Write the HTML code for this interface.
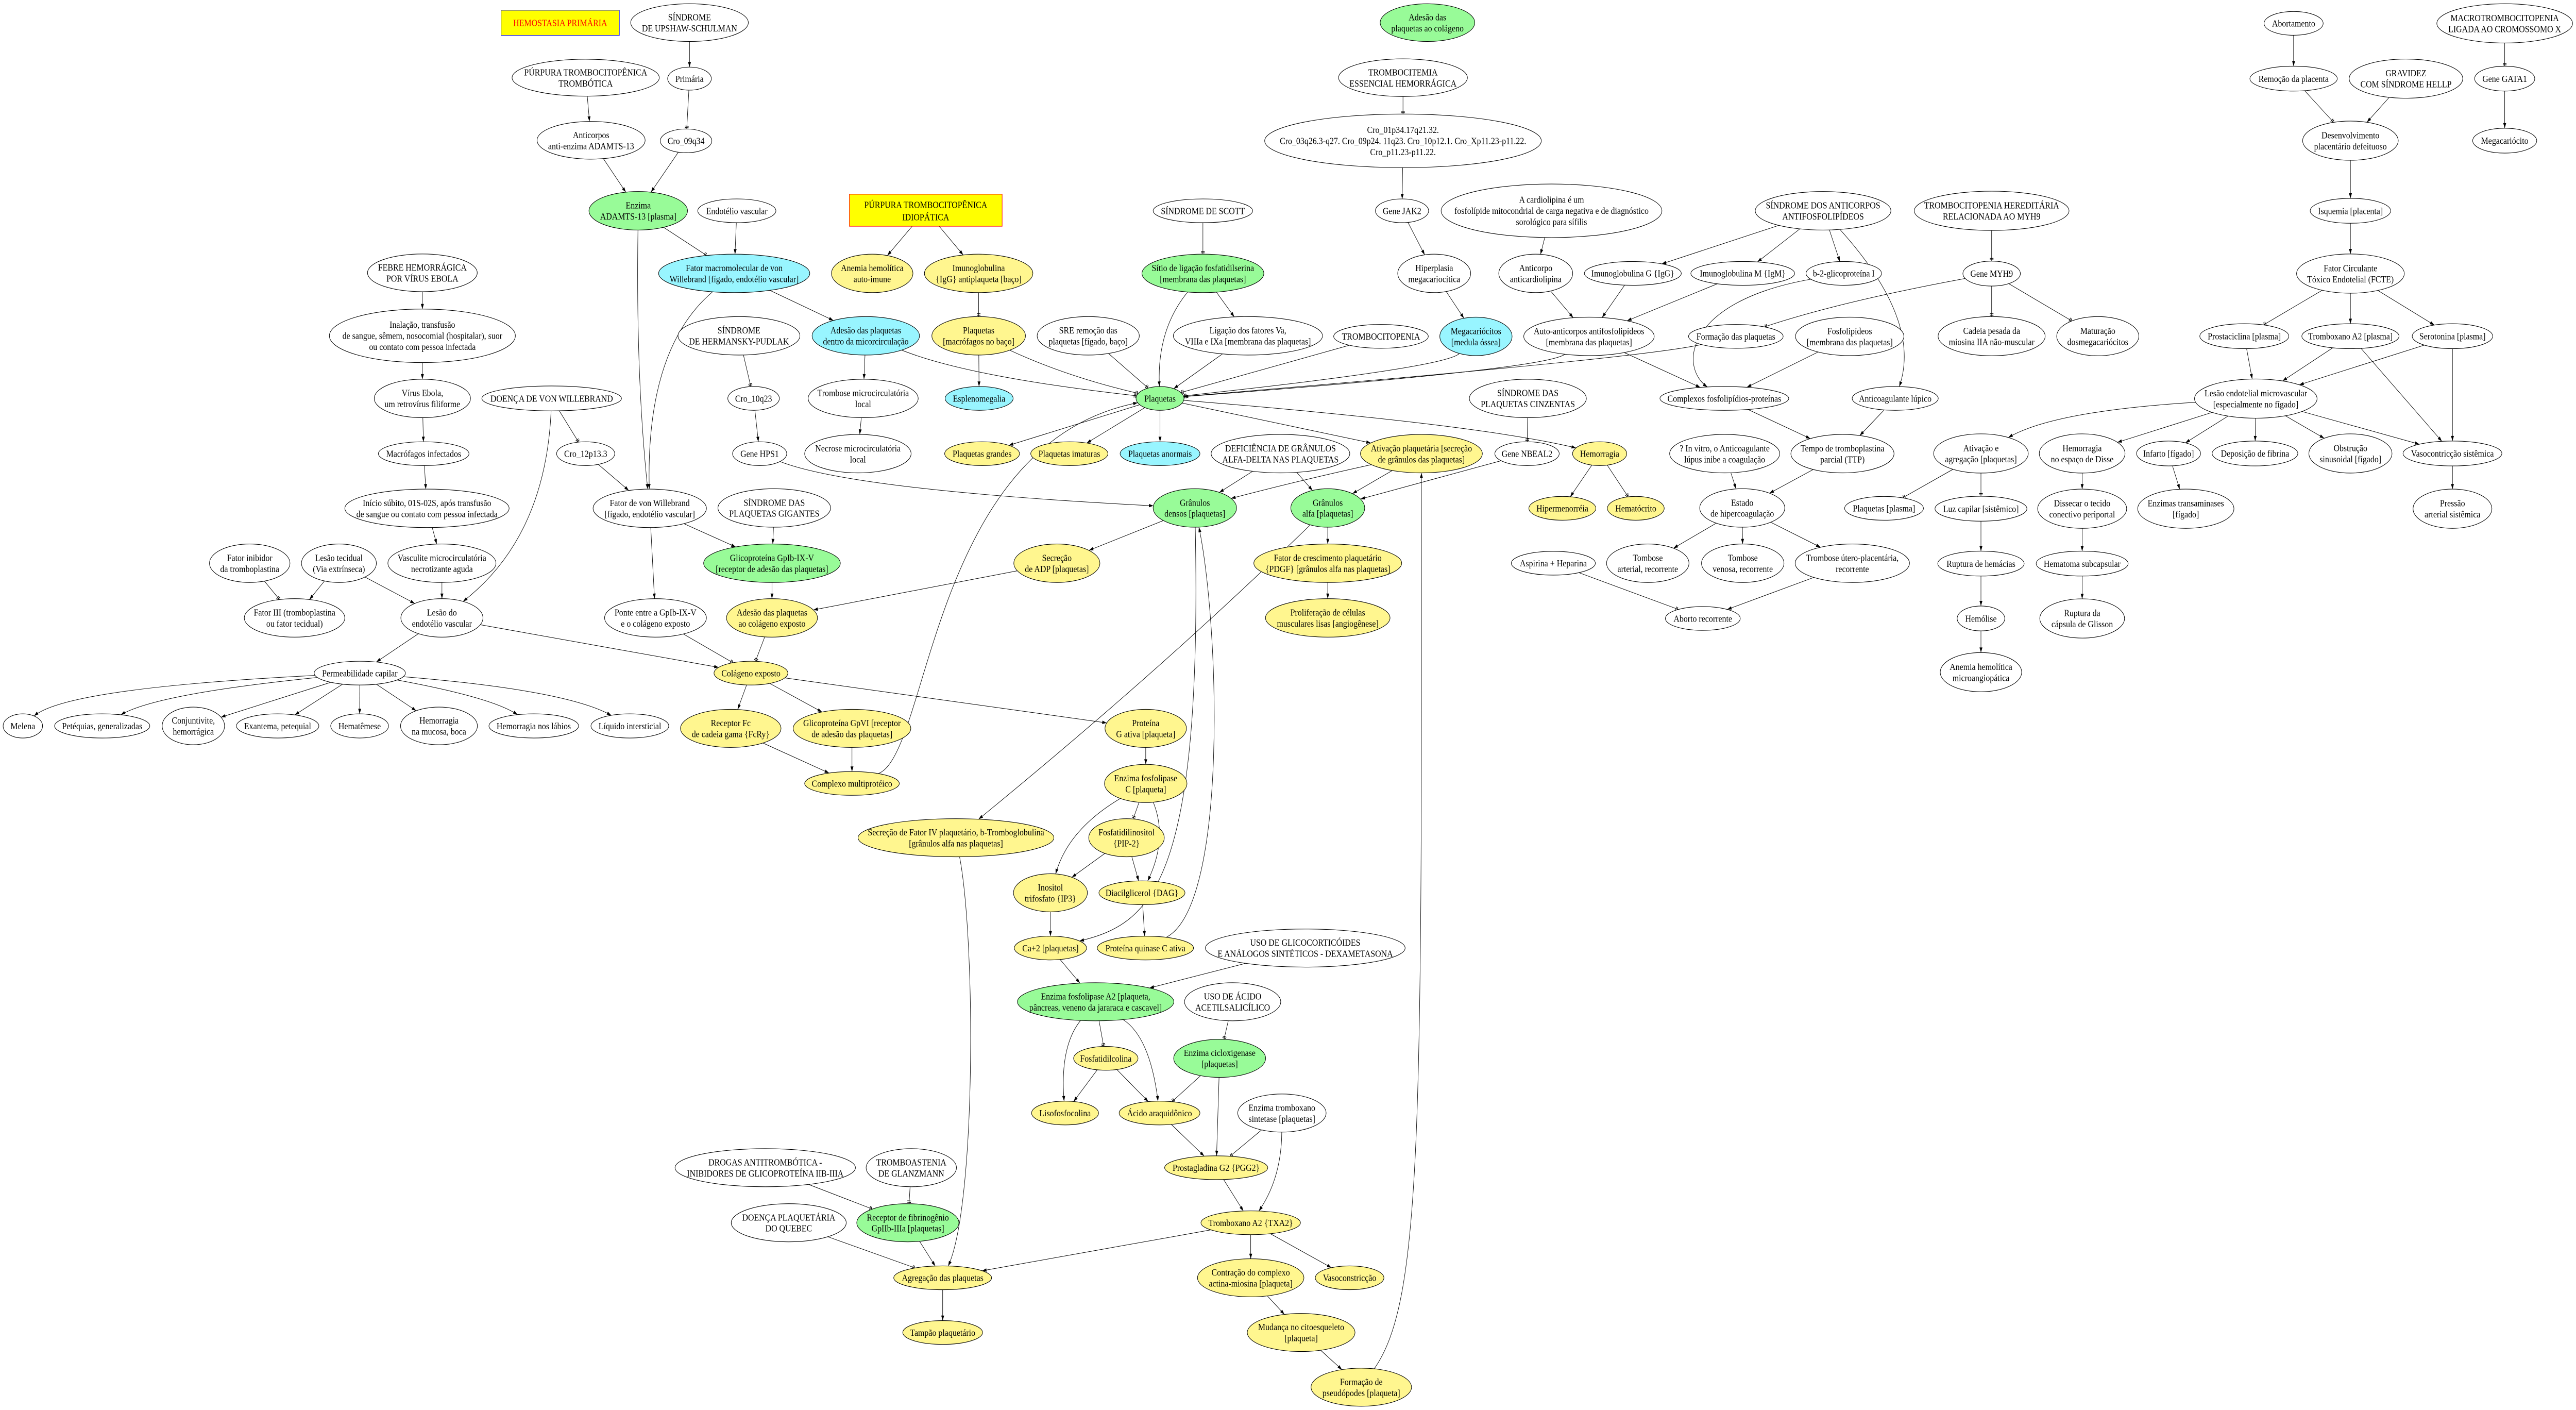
<!DOCTYPE html>
<html><head><meta charset="utf-8">
<style>
html,body{margin:0;padding:0;background:#fff;overflow:hidden;width:100%;height:100%;}
svg{position:fixed;left:0;top:0;width:100vw;height:100vh;display:block;}
text{font-family:"Liberation Serif","DejaVu Serif",serif;font-size:5px;text-anchor:middle;fill:#000;}
ellipse{stroke:#000;stroke-width:.3;fill:#fff;}
.g{fill:#98fb98;} .y{fill:#fff68f;} .c{fill:#98f5ff;}
#edges path{fill:none;stroke:#000;stroke-width:.27;}
</style></head>
<body>
<svg id="svg" viewBox="0 0 1568 747.8" preserveAspectRatio="none" xmlns="http://www.w3.org/2000/svg">
<defs>
<marker id="ar" markerUnits="userSpaceOnUse" markerWidth="4" markerHeight="3" viewBox="-3 -1.5 4 3" refX="0" refY="0" orient="auto"><path d="M-2.7,-0.9 L0,0 L-2.7,0.9 z" fill="#000"/></marker>
<marker id="te" markerUnits="userSpaceOnUse" markerWidth="4" markerHeight="4" viewBox="-3 -2 4 4" refX="0" refY="0" orient="auto"><path d="M-1.5,-1.1 L-1.5,1.1 M-0.7,-1.1 L-0.7,1.1" stroke="#000" stroke-width="0.35" fill="none"/></marker>
</defs>
<rect width="1568" height="747.8" fill="#fff"/>
<g id="edges"></g>
<g id="nodes">
<rect id="hem" x="305" y="5.4" width="72" height="13.4" fill="#ff0" stroke="#00f" stroke-width=".3"/><text x="341" y="13.8" style="fill:#f00">HEMOSTASIA PRIMÁRIA</text>
<ellipse id="ups" cx="419.7" cy="12" rx="35.8" ry="10"/><text x="419.7" y="10.8"><tspan x="419.7">SÍNDROME</tspan><tspan x="419.7" dy="5.86">DE UPSHAW-SCHULMAN</tspan></text>
<ellipse id="ptt" cx="356.5" cy="41.2" rx="44.8" ry="9.8"/><text x="356.5" y="40"><tspan x="356.5">PÚRPURA TROMBOCITOPÊNICA</tspan><tspan x="356.5" dy="5.86">TROMBÓTICA</tspan></text>
<ellipse id="pri" cx="419.7" cy="41.7" rx="13.3" ry="6.1"/><text x="419.7" y="43.4">Primária</text>
<ellipse id="c09" cx="417.6" cy="74.7" rx="15.7" ry="6.3"/><text x="417.6" y="76.4">Cro_09q34</text>
<ellipse id="acA" cx="359.8" cy="74.4" rx="32.9" ry="10"/><text x="359.8" y="73.2"><tspan x="359.8">Anticorpos</tspan><tspan x="359.8" dy="5.86">anti-enzima ADAMTS-13</tspan></text>
<ellipse id="adm" class="g" cx="388.5" cy="111.8" rx="30" ry="10.2"/><text x="388.5" y="110.6"><tspan x="388.5">Enzima</tspan><tspan x="388.5" dy="5.86">ADAMTS-13 [plasma]</tspan></text>
<ellipse id="endv" cx="448.5" cy="111.8" rx="23.8" ry="6.3"/><text x="448.5" y="113.5">Endotélio vascular</text>
<rect id="pti" x="517" y="103" width="93" height="17" fill="#ff0" stroke="#f00" stroke-width=".3"/><text x="563.5" y="110.3"><tspan x="563.5">PÚRPURA TROMBOCITOPÊNICA</tspan><tspan x="563.5" dy="6.6">IDIOPÁTICA</tspan></text>
<ellipse id="fmv" class="c" cx="446.9" cy="145" rx="46" ry="10.2"/><text x="446.9" y="143.8"><tspan x="446.9">Fator macromolecular de von</tspan><tspan x="446.9" dy="5.86">Willebrand [fígado, endotélio vascular]</tspan></text>
<ellipse id="ahai" class="y" cx="530.9" cy="145" rx="24.8" ry="10.2"/><text x="530.9" y="143.8"><tspan x="530.9">Anemia hemolítica</tspan><tspan x="530.9" dy="5.86">auto-imune</tspan></text>
<ellipse id="igg1" class="y" cx="595.7" cy="145" rx="33" ry="10.2"/><text x="595.7" y="143.8"><tspan x="595.7">Imunoglobulina</tspan><tspan x="595.7" dy="5.86">{IgG} antiplaqueta [baço]</tspan></text>
<ellipse id="scott" cx="732.2" cy="111.8" rx="30.3" ry="6.3"/><text x="732.2" y="113.5">SÍNDROME DE SCOTT</text>
<ellipse id="sitio" class="g" cx="732.2" cy="145" rx="37.1" ry="10.2"/><text x="732.2" y="143.8"><tspan x="732.2">Sítio de ligação fosfatidilserina</tspan><tspan x="732.2" dy="5.86">[membrana das plaquetas]</tspan></text>
<ellipse id="febre" cx="257.1" cy="144.7" rx="33.4" ry="10"/><text x="257.1" y="143.5"><tspan x="257.1">FEBRE HEMORRÁGICA</tspan><tspan x="257.1" dy="5.86">POR VÍRUS EBOLA</tspan></text>
<ellipse id="inal" cx="257.1" cy="178.1" rx="56.6" ry="14.2"/><text x="257.1" y="173.9"><tspan x="257.1">Inalação, transfusão</tspan><tspan x="257.1" dy="5.86">de sangue, sêmem, nosocomial (hospitalar), suor</tspan><tspan x="257.1" dy="5.86">ou contato com pessoa infectada</tspan></text>
<ellipse id="herm" cx="449.8" cy="178.1" rx="37.1" ry="10.2"/><text x="449.8" y="176.9"><tspan x="449.8">SÍNDROME</tspan><tspan x="449.8" dy="5.86">DE HERMANSKY-PUDLAK</tspan></text>
<ellipse id="admc" class="c" cx="527" cy="178.1" rx="32.7" ry="10.2"/><text x="527" y="176.9"><tspan x="527">Adesão das plaquetas</tspan><tspan x="527" dy="5.86">dentro da micorcirculação</tspan></text>
<ellipse id="pmac" class="y" cx="595.7" cy="178.1" rx="28.5" ry="10.2"/><text x="595.7" y="176.9"><tspan x="595.7">Plaquetas</tspan><tspan x="595.7" dy="5.86">[macrófagos no baço]</tspan></text>
<ellipse id="sre" cx="662.4" cy="178.1" rx="31.1" ry="10.2"/><text x="662.4" y="176.9"><tspan x="662.4">SRE remoção das</tspan><tspan x="662.4" dy="5.86">plaquetas [fígado, baço]</tspan></text>
<ellipse id="lig" cx="759.6" cy="178.1" rx="45.4" ry="10.2"/><text x="759.6" y="176.9"><tspan x="759.6">Ligação dos fatores Va,</tspan><tspan x="759.6" dy="5.86">VIIIa e IXa [membrana das plaquetas]</tspan></text>
<ellipse id="virus" cx="257.1" cy="211.3" rx="29.3" ry="10.2"/><text x="257.1" y="210.1"><tspan x="257.1">Vírus Ebola,</tspan><tspan x="257.1" dy="5.86">um retrovírus filiforme</tspan></text>
<ellipse id="dvw" cx="335.8" cy="211.3" rx="42.5" ry="6.6"/><text x="335.8" y="213">DOENÇA DE VON WILLEBRAND</text>
<ellipse id="c10" cx="458.7" cy="211.3" rx="15.7" ry="6.3"/><text x="458.7" y="213">Cro_10q23</text>
<ellipse id="tmc" cx="525.4" cy="211.3" rx="33.5" ry="10.2"/><text x="525.4" y="210.1"><tspan x="525.4">Trombose microcirculatória</tspan><tspan x="525.4" dy="5.86">local</tspan></text>
<ellipse id="esp" class="c" cx="596" cy="211.3" rx="20.7" ry="6.3"/><text x="596" y="213">Esplenomegalia</text>
<ellipse id="plq" class="g" cx="706.1" cy="211.3" rx="14.6" ry="6.3"/><text x="706.1" y="213">Plaquetas</text>
<ellipse id="mac" cx="257.9" cy="240.6" rx="27.6" ry="6.3"/><text x="257.9" y="242.3">Macrófagos infectados</text>
<ellipse id="c12" cx="356.5" cy="240.6" rx="17.7" ry="6.3"/><text x="356.5" y="242.3">Cro_12p13.3</text>
<ellipse id="hps" cx="462.4" cy="240.6" rx="16.5" ry="6.3"/><text x="462.4" y="242.3">Gene HPS1</text>
<ellipse id="nec" cx="522.2" cy="240.6" rx="32.4" ry="10.2"/><text x="522.2" y="239.4"><tspan x="522.2">Necrose microcirculatória</tspan><tspan x="522.2" dy="5.86">local</tspan></text>
<ellipse id="pgr" class="y" cx="597.8" cy="240.6" rx="22.8" ry="6.3"/><text x="597.8" y="242.3">Plaquetas grandes</text>
<ellipse id="pim" class="y" cx="650.9" cy="240.6" rx="23.5" ry="6.3"/><text x="650.9" y="242.3">Plaquetas imaturas</text>
<ellipse id="pan" class="c" cx="706.1" cy="240.6" rx="24.3" ry="6.3"/><text x="706.1" y="242.3">Plaquetas anormais</text>
<ellipse id="def" cx="779.4" cy="240.6" rx="42.2" ry="10.2"/><text x="779.4" y="239.4"><tspan x="779.4">DEFICIÊNCIA DE GRÂNULOS</tspan><tspan x="779.4" dy="5.86">ALFA-DELTA NAS PLAQUETAS</tspan></text>
<ellipse id="ini" cx="259.9" cy="269.6" rx="50" ry="10.2"/><text x="259.9" y="268.4"><tspan x="259.9">Início súbito, 01S-02S, após transfusão</tspan><tspan x="259.9" dy="5.86">de sangue ou contato com pessoa infectada</tspan></text>
<ellipse id="fvw" cx="395.5" cy="269.6" rx="34.5" ry="10.2"/><text x="395.5" y="268.4"><tspan x="395.5">Fator de von Willebrand</tspan><tspan x="395.5" dy="5.86">[fígado, endotélio vascular]</tspan></text>
<ellipse id="gig" cx="471.3" cy="269.4" rx="34.3" ry="10.2"/><text x="471.3" y="268.2"><tspan x="471.3">SÍNDROME DAS</tspan><tspan x="471.3" dy="5.86">PLAQUETAS GIGANTES</tspan></text>
<ellipse id="gden" class="g" cx="727.3" cy="269.4" rx="25.4" ry="10.2"/><text x="727.3" y="268.2"><tspan x="727.3">Grânulos</tspan><tspan x="727.3" dy="5.86">densos [plaquetas]</tspan></text>
<ellipse id="finh" cx="152" cy="298.7" rx="24.5" ry="10.2"/><text x="152" y="297.5"><tspan x="152">Fator inibidor</tspan><tspan x="152" dy="5.86">da tromboplastina</tspan></text>
<ellipse id="ltec" cx="206.3" cy="298.7" rx="22.8" ry="10.2"/><text x="206.3" y="297.5"><tspan x="206.3">Lesão tecidual</tspan><tspan x="206.3" dy="5.86">(Via extrínseca)</tspan></text>
<ellipse id="vasc" cx="269" cy="298.7" rx="32.9" ry="10.2"/><text x="269" y="297.5"><tspan x="269">Vasculite microcirculatória</tspan><tspan x="269" dy="5.86">necrotizante aguda</tspan></text>
<ellipse id="gp1b" class="g" cx="469.9" cy="298.7" rx="41.6" ry="10.2"/><text x="469.9" y="297.5"><tspan x="469.9">Glicoproteína GpIb-IX-V</tspan><tspan x="469.9" dy="5.86">[receptor de adesão das plaquetas]</tspan></text>
<ellipse id="adp" class="y" cx="643.3" cy="298.7" rx="26.2" ry="10.2"/><text x="643.3" y="297.5"><tspan x="643.3">Secreção</tspan><tspan x="643.3" dy="5.86">de ADP [plaquetas]</tspan></text>
<ellipse id="f3" cx="179.3" cy="327.7" rx="30.6" ry="10.2"/><text x="179.3" y="326.5"><tspan x="179.3">Fator III (tromboplastina</tspan><tspan x="179.3" dy="5.86">ou fator tecidual)</tspan></text>
<ellipse id="lend" cx="269" cy="327.7" rx="25" ry="10.2"/><text x="269" y="326.5"><tspan x="269">Lesão do</tspan><tspan x="269" dy="5.86">endotélio vascular</tspan></text>
<ellipse id="ponte" cx="399" cy="327.7" rx="31" ry="10.2"/><text x="399" y="326.5"><tspan x="399">Ponte entre a GpIb-IX-V</tspan><tspan x="399" dy="5.86">e o colágeno exposto</tspan></text>
<ellipse id="adcol" class="y" cx="469.9" cy="327.7" rx="27.7" ry="10.2"/><text x="469.9" y="326.5"><tspan x="469.9">Adesão das plaquetas</tspan><tspan x="469.9" dy="5.86">ao colágeno exposto</tspan></text>
<ellipse id="perm" cx="219" cy="357" rx="27.8" ry="6.3"/><text x="219" y="358.7">Permeabilidade capilar</text>
<ellipse id="col" class="y" cx="457.1" cy="357" rx="22.5" ry="6.3"/><text x="457.1" y="358.7">Colágeno exposto</text>
<ellipse id="melena" cx="13.9" cy="385" rx="12" ry="6.4"/><text x="13.9" y="386.7">Melena</text>
<ellipse id="pet" cx="62.2" cy="385" rx="29" ry="6.4"/><text x="62.2" y="386.7">Petéquias, generalizadas</text>
<ellipse id="conj" cx="117.7" cy="385" rx="19" ry="10"/><text x="117.7" y="383.8"><tspan x="117.7">Conjuntivite,</tspan><tspan x="117.7" dy="5.86">hemorrágica</tspan></text>
<ellipse id="exan" cx="169" cy="385" rx="25.1" ry="6.4"/><text x="169" y="386.7">Exantema, petequial</text>
<ellipse id="hemat" cx="218.9" cy="385" rx="17.6" ry="6.4"/><text x="218.9" y="386.7">Hematêmese</text>
<ellipse id="hmuc" cx="267.2" cy="385" rx="23.4" ry="10"/><text x="267.2" y="383.8"><tspan x="267.2">Hemorragia</tspan><tspan x="267.2" dy="5.86">na mucosa, boca</tspan></text>
<ellipse id="hlab" cx="324.9" cy="385" rx="27.3" ry="6.4"/><text x="324.9" y="386.7">Hemorragia nos lábios</text>
<ellipse id="liq" cx="383.4" cy="385" rx="23.7" ry="6.4"/><text x="383.4" y="386.7">Líquido intersticial</text>
<ellipse id="recfc" class="y" cx="444.8" cy="386.3" rx="30.6" ry="10.1"/><text x="444.8" y="385.1"><tspan x="444.8">Receptor Fc</tspan><tspan x="444.8" dy="5.86">de cadeia gama {FcRy}</tspan></text>
<ellipse id="gp6" class="y" cx="518.6" cy="386.3" rx="35.8" ry="10.1"/><text x="518.6" y="385.1"><tspan x="518.6">Glicoproteína GpVI [receptor</tspan><tspan x="518.6" dy="5.86">de adesão das plaquetas]</tspan></text>
<ellipse id="protg" class="y" cx="697.4" cy="386.3" rx="24.8" ry="10.1"/><text x="697.4" y="385.1"><tspan x="697.4">Proteína</tspan><tspan x="697.4" dy="5.86">G ativa [plaqueta]</tspan></text>
<ellipse id="cmp" class="y" cx="518.6" cy="415.5" rx="28.8" ry="6.3"/><text x="518.6" y="417.2">Complexo multiprotéico</text>
<ellipse id="plc" class="y" cx="697.4" cy="415.5" rx="25.1" ry="10.1"/><text x="697.4" y="414.3"><tspan x="697.4">Enzima fosfolipase</tspan><tspan x="697.4" dy="5.86">C [plaqueta]</tspan></text>
<ellipse id="f4" class="y" cx="581.9" cy="444.3" rx="59.6" ry="10.1"/><text x="581.9" y="443.1"><tspan x="581.9">Secreção de Fator IV plaquetário, b-Tromboglobulina</tspan><tspan x="581.9" dy="5.86">[grânulos alfa nas plaquetas]</tspan></text>
<ellipse id="pip" class="y" cx="685.7" cy="444.3" rx="23" ry="10.1"/><text x="685.7" y="443.1"><tspan x="685.7">Fosfatidilinositol</tspan><tspan x="685.7" dy="5.86">{PIP-2}</tspan></text>
<ellipse id="ip3" class="y" cx="639.4" cy="473.5" rx="22.5" ry="10.1"/><text x="639.4" y="472.3"><tspan x="639.4">Inositol</tspan><tspan x="639.4" dy="5.86">trifosfato {IP3}</tspan></text>
<ellipse id="dag" class="y" cx="695.1" cy="473.5" rx="26.2" ry="6.3"/><text x="695.1" y="475.2">Diacilglicerol {DAG}</text>
<ellipse id="ca" class="y" cx="639.4" cy="502.8" rx="22" ry="6.3"/><text x="639.4" y="504.5">Ca+2 [plaquetas]</text>
<ellipse id="pkc" class="y" cx="697.2" cy="502.8" rx="29.3" ry="6.3"/><text x="697.2" y="504.5">Proteína quinase C ativa</text>
<ellipse id="glico" cx="794.5" cy="502.8" rx="60.8" ry="10.1"/><text x="794.5" y="501.6"><tspan x="794.5">USO DE GLICOCORTICÓIDES</tspan><tspan x="794.5" dy="5.86">E ANÁLOGOS SINTÉTICOS - DEXAMETASONA</tspan></text>
<ellipse id="pla2" class="g" cx="666.9" cy="531.3" rx="47.6" ry="10.1"/><text x="666.9" y="530.1"><tspan x="666.9">Enzima fosfolipase A2 [plaqueta,</tspan><tspan x="666.9" dy="5.86">pâncreas, veneno da jararaca e cascavel]</tspan></text>
<ellipse id="asa" cx="750.3" cy="531.3" rx="29.3" ry="10.1"/><text x="750.3" y="530.1"><tspan x="750.3">USO DE ÁCIDO</tspan><tspan x="750.3" dy="5.86">ACETILSALICÍLICO</tspan></text>
<ellipse id="fcol" class="y" cx="673.1" cy="561.3" rx="19.6" ry="6.3"/><text x="673.1" y="563">Fosfatidilcolina</text>
<ellipse id="cox" class="g" cx="742.4" cy="561.3" rx="28" ry="10.1"/><text x="742.4" y="560.1"><tspan x="742.4">Enzima cicloxigenase</tspan><tspan x="742.4" dy="5.86">[plaquetas]</tspan></text>
<ellipse id="liso" class="y" cx="648.3" cy="590.3" rx="20.4" ry="6.3"/><text x="648.3" y="592">Lisofosfocolina</text>
<ellipse id="aa" class="y" cx="705.8" cy="590.3" rx="24.6" ry="6.3"/><text x="705.8" y="592">Ácido araquidônico</text>
<ellipse id="txs" cx="780.3" cy="590.3" rx="26.9" ry="10.1"/><text x="780.3" y="589.1"><tspan x="780.3">Enzima tromboxano</tspan><tspan x="780.3" dy="5.86">sintetase [plaquetas]</tspan></text>
<ellipse id="drog" cx="465.8" cy="619.3" rx="54.9" ry="10.1"/><text x="465.8" y="618.1"><tspan x="465.8">DROGAS ANTITROMBÓTICA -</tspan><tspan x="465.8" dy="5.86">INIBIDORES DE GLICOPROTEÍNA IIB-IIIA</tspan></text>
<ellipse id="glan" cx="554.7" cy="619.3" rx="27.5" ry="10.1"/><text x="554.7" y="618.1"><tspan x="554.7">TROMBOASTENIA</tspan><tspan x="554.7" dy="5.86">DE GLANZMANN</tspan></text>
<ellipse id="pgg2" class="y" cx="740.3" cy="619.3" rx="31.4" ry="6.3"/><text x="740.3" y="621">Prostagladina G2 {PGG2}</text>
<ellipse id="queb" cx="480.1" cy="648.5" rx="35" ry="10.1"/><text x="480.1" y="647.3"><tspan x="480.1">DOENÇA PLAQUETÁRIA</tspan><tspan x="480.1" dy="5.86">DO QUEBEC</tspan></text>
<ellipse id="rfib" class="g" cx="552.6" cy="648.5" rx="31.1" ry="10.1"/><text x="552.6" y="647.3"><tspan x="552.6">Receptor de fibrinogênio</tspan><tspan x="552.6" dy="5.86">GpIIb-IIIa [plaquetas]</tspan></text>
<ellipse id="txa2" class="y" cx="761.3" cy="648.5" rx="30.3" ry="6.3"/><text x="761.3" y="650.2">Tromboxano A2 {TXA2}</text>
<ellipse id="agr" class="y" cx="573.8" cy="677.7" rx="29.8" ry="6.3"/><text x="573.8" y="679.4">Agregação das plaquetas</text>
<ellipse id="contr" class="y" cx="761.3" cy="677.7" rx="32.4" ry="10.1"/><text x="761.3" y="676.5"><tspan x="761.3">Contração do complexo</tspan><tspan x="761.3" dy="5.86">actina-miosina [plaqueta]</tspan></text>
<ellipse id="vcon" class="y" cx="821.5" cy="677.7" rx="20.9" ry="6.3"/><text x="821.5" y="679.4">Vasoconstricção</text>
<ellipse id="tamp" class="y" cx="573.8" cy="706.7" rx="24.3" ry="6.3"/><text x="573.8" y="708.4">Tampão plaquetário</text>
<ellipse id="mud" class="y" cx="792" cy="706.7" rx="32.8" ry="10.1"/><text x="792" y="705.5"><tspan x="792">Mudança no citoesqueleto</tspan><tspan x="792" dy="5.86">[plaqueta]</tspan></text>
<ellipse id="pseu" class="y" cx="828.6" cy="735.7" rx="30.6" ry="10.1"/><text x="828.6" y="734.5"><tspan x="828.6">Formação de</tspan><tspan x="828.6" dy="5.86">pseudópodes [plaqueta]</tspan></text>
<ellipse id="adcg" class="g" cx="868.9" cy="12" rx="28.8" ry="10"/><text x="868.9" y="10.8"><tspan x="868.9">Adesão das</tspan><tspan x="868.9" dy="5.86">plaquetas ao colágeno</tspan></text>
<ellipse id="tess" cx="854" cy="41.2" rx="39.2" ry="10"/><text x="854" y="40"><tspan x="854">TROMBOCITEMIA</tspan><tspan x="854" dy="5.86">ESSENCIAL HEMORRÁGICA</tspan></text>
<ellipse id="cro1" cx="854" cy="74.7" rx="84.2" ry="14.2"/><text x="854" y="70.5"><tspan x="854">Cro_01p34.17q21.32.</tspan><tspan x="854" dy="5.86">Cro_03q26.3-q27. Cro_09p24. 11q23. Cro_10p12.1. Cro_Xp11.23-p11.22.</tspan><tspan x="854" dy="5.86">Cro_p11.23-p11.22.</tspan></text>
<ellipse id="jak" cx="853.4" cy="111.8" rx="16.2" ry="6.3"/><text x="853.4" y="113.5">Gene JAK2</text>
<ellipse id="card" cx="944.4" cy="111.8" rx="67.2" ry="14.2"/><text x="944.4" y="107.6"><tspan x="944.4">A cardiolipina é um</tspan><tspan x="944.4" dy="5.86">fosfolípide mitocondrial de carga negativa e de diagnóstico</tspan><tspan x="944.4" dy="5.86">sorológico para sífilis</tspan></text>
<ellipse id="saf" cx="1109.7" cy="111.8" rx="41.3" ry="10.2"/><text x="1109.7" y="110.6"><tspan x="1109.7">SÍNDROME DOS ANTICORPOS</tspan><tspan x="1109.7" dy="5.86">ANTIFOSFOLIPÍDEOS</tspan></text>
<ellipse id="hip" cx="873" cy="145" rx="22.2" ry="10.2"/><text x="873" y="143.8"><tspan x="873">Hiperplasia</tspan><tspan x="873" dy="5.86">megacariocítica</tspan></text>
<ellipse id="acard" cx="934.8" cy="145" rx="22.5" ry="10.2"/><text x="934.8" y="143.8"><tspan x="934.8">Anticorpo</tspan><tspan x="934.8" dy="5.86">anticardiolipina</tspan></text>
<ellipse id="igG" cx="993.9" cy="145" rx="29.5" ry="6.3"/><text x="993.9" y="146.7">Imunoglobulina G {IgG}</text>
<ellipse id="igM" cx="1060.8" cy="145" rx="31.6" ry="6.3"/><text x="1060.8" y="146.7">Imunoglobulina M {IgM}</text>
<ellipse id="b2" cx="1122.3" cy="145" rx="23" ry="6.3"/><text x="1122.3" y="146.7">b-2-glicoproteína I</text>
<ellipse id="tcp" cx="840.6" cy="178.4" rx="28.8" ry="6.3"/><text x="840.6" y="180.1">TROMBOCITOPENIA</text>
<ellipse id="mega" class="c" cx="898.4" cy="178.4" rx="22" ry="10.2"/><text x="898.4" y="177.2"><tspan x="898.4">Megacariócitos</tspan><tspan x="898.4" dy="5.86">[medula óssea]</tspan></text>
<ellipse id="auto" cx="967.2" cy="178.4" rx="39.7" ry="10.2"/><text x="967.2" y="177.2"><tspan x="967.2">Auto-anticorpos antifosfolipídeos</tspan><tspan x="967.2" dy="5.86">[membrana das plaquetas]</tspan></text>
<ellipse id="form" cx="1056.6" cy="178.4" rx="28.8" ry="6.3"/><text x="1056.6" y="180.1">Formação das plaquetas</text>
<ellipse id="fosf" cx="1125.9" cy="178.4" rx="33" ry="10.2"/><text x="1125.9" y="177.2"><tspan x="1125.9">Fosfolipídeos</tspan><tspan x="1125.9" dy="5.86">[membrana das plaquetas]</tspan></text>
<ellipse id="cinz" cx="930" cy="211.3" rx="35.6" ry="10.2"/><text x="930" y="210.1"><tspan x="930">SÍNDROME DAS</tspan><tspan x="930" dy="5.86">PLAQUETAS CINZENTAS</tspan></text>
<ellipse id="cplx" cx="1049.6" cy="211.3" rx="39.2" ry="6.3"/><text x="1049.6" y="213">Complexos fosfolipídios-proteínas</text>
<ellipse id="alup" cx="1153.6" cy="211.3" rx="26.2" ry="6.3"/><text x="1153.6" y="213">Anticoagulante lúpico</text>
<ellipse id="atv" class="y" cx="865.2" cy="240.6" rx="37.1" ry="10.2"/><text x="865.2" y="239.4"><tspan x="865.2">Ativação plaquetária [secreção</tspan><tspan x="865.2" dy="5.86">de grânulos das plaquetas]</tspan></text>
<ellipse id="nbe" cx="929.5" cy="240.6" rx="19.6" ry="6.3"/><text x="929.5" y="242.3">Gene NBEAL2</text>
<ellipse id="hemo" class="y" cx="973.7" cy="240.6" rx="16.5" ry="6.3"/><text x="973.7" y="242.3">Hemorragia</text>
<ellipse id="invt" cx="1049.8" cy="240.6" rx="33.5" ry="10.2"/><text x="1049.8" y="239.4"><tspan x="1049.8">? In vitro, o Anticoagulante</tspan><tspan x="1049.8" dy="5.86">lúpus inibe a coagulação</tspan></text>
<ellipse id="ttp" cx="1121.5" cy="240.6" rx="31.4" ry="10.2"/><text x="1121.5" y="239.4"><tspan x="1121.5">Tempo de tromboplastina</tspan><tspan x="1121.5" dy="5.86">parcial (TTP)</tspan></text>
<ellipse id="galf" class="g" cx="808.2" cy="269.4" rx="22.5" ry="10.2"/><text x="808.2" y="268.2"><tspan x="808.2">Grânulos</tspan><tspan x="808.2" dy="5.86">alfa [plaquetas]</tspan></text>
<ellipse id="hmen" class="y" cx="951" cy="269.6" rx="20.4" ry="6.3"/><text x="951" y="271.3">Hipermenorréia</text>
<ellipse id="hcto" class="y" cx="995.7" cy="269.6" rx="17.3" ry="6.3"/><text x="995.7" y="271.3">Hematócrito</text>
<ellipse id="est" cx="1060.5" cy="269.4" rx="25.9" ry="10.2"/><text x="1060.5" y="268.2"><tspan x="1060.5">Estado</tspan><tspan x="1060.5" dy="5.86">de hipercoagulação</tspan></text>
<ellipse id="pdgf" class="y" cx="808.2" cy="298.7" rx="45" ry="10.2"/><text x="808.2" y="297.5"><tspan x="808.2">Fator de crescimento plaquetário</tspan><tspan x="808.2" dy="5.86">{PDGF} [grânulos alfa nas plaquetas]</tspan></text>
<ellipse id="asp" cx="945.5" cy="298.7" rx="25.6" ry="6.3"/><text x="945.5" y="300.4">Aspirina + Heparina</text>
<ellipse id="tart" cx="1003" cy="298.7" rx="25.1" ry="10.2"/><text x="1003" y="297.5"><tspan x="1003">Tombose</tspan><tspan x="1003" dy="5.86">arterial, recorrente</tspan></text>
<ellipse id="tven" cx="1060.8" cy="298.7" rx="25.1" ry="10.2"/><text x="1060.8" y="297.5"><tspan x="1060.8">Tombose</tspan><tspan x="1060.8" dy="5.86">venosa, recorrente</tspan></text>
<ellipse id="tute" cx="1127.5" cy="298.7" rx="34.8" ry="10.2"/><text x="1127.5" y="297.5"><tspan x="1127.5">Trombose útero-placentária,</tspan><tspan x="1127.5" dy="5.86">recorrente</tspan></text>
<ellipse id="prol" class="y" cx="808.2" cy="327.7" rx="37.9" ry="10.2"/><text x="808.2" y="326.5"><tspan x="808.2">Proliferação de células</tspan><tspan x="808.2" dy="5.86">musculares lisas [angiogênese]</tspan></text>
<ellipse id="abr" cx="1036.5" cy="328" rx="22.8" ry="6.3"/><text x="1036.5" y="329.7">Aborto recorrente</text>
<ellipse id="abt" cx="1396.1" cy="12.4" rx="18" ry="6.3"/><text x="1396.1" y="14.1">Abortamento</text>
<ellipse id="macro" cx="1524.6" cy="12.4" rx="41.3" ry="10.4"/><text x="1524.6" y="11.2"><tspan x="1524.6">MACROTROMBOCITOPENIA</tspan><tspan x="1524.6" dy="5.86">LIGADA AO CROMOSSOMO X</tspan></text>
<ellipse id="rem" cx="1396.1" cy="41.7" rx="26.6" ry="6.6"/><text x="1396.1" y="43.4">Remoção da placenta</text>
<ellipse id="grav" cx="1464.5" cy="41.7" rx="34.6" ry="10.4"/><text x="1464.5" y="40.5"><tspan x="1464.5">GRAVIDEZ</tspan><tspan x="1464.5" dy="5.86">COM SÍNDROME HELLP</tspan></text>
<ellipse id="gata" cx="1524.6" cy="41.7" rx="18.3" ry="6.6"/><text x="1524.6" y="43.4">Gene GATA1</text>
<ellipse id="desv" cx="1430.7" cy="74.6" rx="29.1" ry="10.4"/><text x="1430.7" y="73.4"><tspan x="1430.7">Desenvolvimento</tspan><tspan x="1430.7" dy="5.86">placentário defeituoso</tspan></text>
<ellipse id="megc" cx="1524.6" cy="74.6" rx="19.5" ry="6.6"/><text x="1524.6" y="76.3">Megacariócito</text>
<ellipse id="ther" cx="1212.3" cy="111.8" rx="47.1" ry="10.4"/><text x="1212.3" y="110.6"><tspan x="1212.3">TROMBOCITOPENIA HEREDITÁRIA</tspan><tspan x="1212.3" dy="5.86">RELACIONADA AO MYH9</tspan></text>
<ellipse id="isq" cx="1430.7" cy="111.8" rx="24.5" ry="6.6"/><text x="1430.7" y="113.5">Isquemia [placenta]</text>
<ellipse id="myh" cx="1212.3" cy="145.1" rx="17.5" ry="6.6"/><text x="1212.3" y="146.8">Gene MYH9</text>
<ellipse id="fcte" cx="1430.7" cy="145.1" rx="32.8" ry="10.4"/><text x="1430.7" y="143.9"><tspan x="1430.7">Fator Circulante</tspan><tspan x="1430.7" dy="5.86">Tóxico Endotelial (FCTE)</tspan></text>
<ellipse id="cad" cx="1212.3" cy="178.3" rx="32.6" ry="10.4"/><text x="1212.3" y="177.1"><tspan x="1212.3">Cadeia pesada da</tspan><tspan x="1212.3" dy="5.86">miosina IIA não-muscular</tspan></text>
<ellipse id="mat" cx="1276.9" cy="178.3" rx="25" ry="10.4"/><text x="1276.9" y="177.1"><tspan x="1276.9">Maturação</tspan><tspan x="1276.9" dy="5.86">dosmegacariócitos</tspan></text>
<ellipse id="pros" cx="1366.1" cy="178.3" rx="27.1" ry="6.6"/><text x="1366.1" y="180">Prostaciclina [plasma]</text>
<ellipse id="txp" cx="1430.7" cy="178.3" rx="29.6" ry="6.6"/><text x="1430.7" y="180">Tromboxano A2 [plasma]</text>
<ellipse id="ser" cx="1492.8" cy="178.3" rx="24.5" ry="6.6"/><text x="1492.8" y="180">Serotonina [plasma]</text>
<ellipse id="lem" cx="1373.1" cy="211.4" rx="37.3" ry="10.4"/><text x="1373.1" y="210.2"><tspan x="1373.1">Lesão endotelial microvascular</tspan><tspan x="1373.1" dy="5.86">[especialmente no fígado]</tspan></text>
<ellipse id="aea" cx="1205.8" cy="240.5" rx="28.8" ry="10.4"/><text x="1205.8" y="239.3"><tspan x="1205.8">Ativação e</tspan><tspan x="1205.8" dy="5.86">agregação [plaquetas]</tspan></text>
<ellipse id="hdis" cx="1267.4" cy="240.5" rx="26.1" ry="10.4"/><text x="1267.4" y="239.3"><tspan x="1267.4">Hemorragia</tspan><tspan x="1267.4" dy="5.86">no espaço de Disse</tspan></text>
<ellipse id="inf" cx="1320" cy="240.5" rx="19.5" ry="6.6"/><text x="1320" y="242.2">Infarto [fígado]</text>
<ellipse id="dep" cx="1372.6" cy="240.5" rx="26.1" ry="6.6"/><text x="1372.6" y="242.2">Deposição de fibrina</text>
<ellipse id="obs" cx="1430.7" cy="240.5" rx="25.3" ry="10.4"/><text x="1430.7" y="239.3"><tspan x="1430.7">Obstrução</tspan><tspan x="1430.7" dy="5.86">sinusoidal [fígado]</tspan></text>
<ellipse id="vsis" cx="1492.8" cy="240.5" rx="30.1" ry="6.6"/><text x="1492.8" y="242.2">Vasocontricção sistêmica</text>
<ellipse id="pplas" cx="1146.8" cy="269.6" rx="24" ry="6.3"/><text x="1146.8" y="271.3">Plaquetas [plasma]</text>
<ellipse id="luz" cx="1205.8" cy="269.8" rx="28" ry="6.6"/><text x="1205.8" y="271.5">Luz capilar [sistêmico]</text>
<ellipse id="diss" cx="1267.4" cy="269.8" rx="27.1" ry="10.4"/><text x="1267.4" y="268.6"><tspan x="1267.4">Dissecar o tecido</tspan><tspan x="1267.4" dy="5.86">conectivo periportal</tspan></text>
<ellipse id="etr" cx="1330.5" cy="269.8" rx="29.3" ry="10.4"/><text x="1330.5" y="268.6"><tspan x="1330.5">Enzimas transaminases</tspan><tspan x="1330.5" dy="5.86">[fígado]</tspan></text>
<ellipse id="pres" cx="1492.8" cy="269.8" rx="24" ry="10.4"/><text x="1492.8" y="268.6"><tspan x="1492.8">Pressão</tspan><tspan x="1492.8" dy="5.86">arterial sistêmica</tspan></text>
<ellipse id="rhem" cx="1205.8" cy="298.9" rx="26.3" ry="6.6"/><text x="1205.8" y="300.6">Ruptura de hemácias</text>
<ellipse id="hsub" cx="1267.4" cy="298.9" rx="28" ry="6.6"/><text x="1267.4" y="300.6">Hematoma subcapsular</text>
<ellipse id="hemol" cx="1205.8" cy="328" rx="14.5" ry="6.6"/><text x="1205.8" y="329.7">Hemólise</text>
<ellipse id="rcap" cx="1267.4" cy="328" rx="25.8" ry="10.4"/><text x="1267.4" y="326.8"><tspan x="1267.4">Ruptura da</tspan><tspan x="1267.4" dy="5.86">cápsula de Glisson</tspan></text>
<ellipse id="amic" cx="1205.8" cy="356.5" rx="24.8" ry="10.4"/><text x="1205.8" y="355.3"><tspan x="1205.8">Anemia hemolítica</tspan><tspan x="1205.8" dy="5.86">microangiopática</tspan></text>
</g>
</svg>
<script>
(function(){
var E=[
["ups","pri","a"],["pri","c09","t"],["c09","adm","a"],["ptt","acA","a"],["acA","adm","a"],
["adm","fmv","t"],["adm","fvw","a",[[387,200]]],["endv","fmv","a"],["fmv","admc","a"],["fmv","fvw","a",[[393,185]]],
["pti","ahai","a"],["pti","igg1","a"],["igg1","pmac","t"],["pmac","esp","a"],["pmac","plq","t",[[650,200]]],
["admc","tmc","a"],["admc","plq","t",[[590,200]]],["tmc","nec","a"],["herm","c10","t"],["c10","hps","a"],["hps","gden","a",[[520,260]]],
["sre","plq","t"],["scott","sitio","t"],["sitio","plq","a",[[704,175]]],["sitio","lig","a"],["lig","plq","a"],
["tcp","plq","t"],["mega","plq","t",[[880,195]]],["form","plq","t",[[1000,190]]],["auto","plq","a",[[940,196]]],
["tess","cro1","t"],["cro1","jak","a"],["jak","hip","a"],["hip","mega","a"],["card","acard","a"],["acard","auto","a"],
["saf","igG","a"],["saf","igM","a"],["saf","b2","a"],["saf","alup","a",[[1170,170]]],["igG","auto","a"],["igM","auto","a"],
["b2","cplx","a",[[1025,160],[1022,195]]],["auto","cplx","a"],["fosf","cplx","a"],["cplx","ttp","a"],["alup","ttp","a"],
["ttp","est","a"],["invt","est","a"],["est","tart","a"],["est","tven","a"],["est","tute","a"],["asp","abr","t"],["tute","abr","a"],
["plq","pgr","a"],["plq","pim","a"],["plq","pan","a"],["plq","atv","a"],["plq","hemo","a",[[900,225]]],
["hemo","hmen","a"],["hemo","hcto","t"],["cinz","nbe","t"],["nbe","galf","a"],["def","gden","a"],["def","galf","a"],
["atv","gden","a",[[790,255]]],["atv","galf","a"],["galf","pdgf","a"],["pdgf","prol","a"],
["galf","f4","a",[[760,310],[700,360]]],["gden","adp","a"],["adp","adcol","a"],
["gden","ca","a",[[732,470],[700,490]]],["pkc","gden","a",[[748,480],[742,330]]],
["cmp","plq","a",[[566,400],[566,235]]],
["myh","cad","t"],["myh","mat","t"],["ther","myh","t"],["myh","form","t",[[1120,160]]],["aea","pplas","t"],
["fvw","gp1b","a"],["fvw","ponte","a"],["gig","gp1b","a"],["gp1b","adcol","a"],["ponte","col","t"],["adcol","col","t"],
["lend","col","a"],["col","recfc","a"],["col","gp6","a"],["col","protg","a"],["recfc","cmp","a"],["gp6","cmp","a"],
["protg","plc","a"],["plc","pip","t"],["plc","ip3","a",[[650,440]]],["plc","dag","a",[[711,445]]],["pip","ip3","a"],["pip","dag","a"],
["ip3","ca","a"],["dag","pkc","a"],["ca","pla2","a"],["glico","pla2","a"],["pla2","fcol","t"],["pla2","liso","a",[[645,555]]],["pla2","aa","a",[[700,550]]],
["fcol","liso","a"],["fcol","aa","a"],["asa","cox","t"],["cox","aa","t"],["cox","pgg2","a"],["aa","pgg2","a"],["txs","pgg2","t"],["txs","txa2","a",[[780,625]]],
["pgg2","txa2","a"],["txa2","agr","a"],["txa2","contr","a"],["txa2","vcon","a"],["contr","mud","a"],["mud","pseu","a"],
["pseu","atv","a",[[865.5,690],[865.5,600]]],["f4","agr","a",[[594,500],[594,640]]],
["drog","rfib","t"],["glan","rfib","t"],["rfib","agr","a"],["queb","agr","t"],["agr","tamp","a"],
["febre","inal","a"],["inal","virus","a"],["virus","mac","a"],["mac","ini","a"],["ini","vasc","a"],["vasc","lend","a"],
["dvw","c12","t"],["dvw","lend","a",[[332,285]]],["c12","fvw","a"],["finh","f3","t"],["ltec","f3","a"],["ltec","lend","a"],
["lend","perm","a"],["perm","melena","a",[[40,365]]],["perm","pet","a",[[95,368]]],["perm","conj","a"],["perm","exan","a"],["perm","hemat","a"],["perm","hmuc","a"],["perm","hlab","a",[[300,370]]],["perm","liq","a",[[345,366]]],
["abt","rem","a"],["rem","desv","t"],["grav","desv","a"],["desv","isq","a"],["isq","fcte","a"],["macro","gata","t"],["gata","megc","a"],
["fcte","pros","t"],["fcte","txp","a"],["fcte","ser","a"],["pros","lem","a"],["txp","lem","a"],["ser","lem","a"],["txp","vsis","a"],["ser","vsis","a"],
["lem","aea","a",[[1250,218]]],["lem","hdis","a"],["lem","inf","a"],["lem","dep","a"],["lem","obs","a"],["lem","vsis","a"],
["aea","luz","t"],["luz","rhem","a"],["rhem","hemol","a"],["hemol","amic","a"],["hdis","diss","a"],["diss","hsub","a"],["hsub","rcap","a"],
["inf","etr","a"],["vsis","pres","a"]
];
function G(id){var e=document.getElementById(id);if(!e)return null;
if(e.tagName.toLowerCase()==='rect'){var x=+e.getAttribute('x'),y=+e.getAttribute('y'),w=+e.getAttribute('width'),h=+e.getAttribute('height');return{cx:x+w/2,cy:y+h/2,rx:w/2,ry:h/2,r:1};}
return{cx:+e.getAttribute('cx'),cy:+e.getAttribute('cy'),rx:+e.getAttribute('rx'),ry:+e.getAttribute('ry'),r:0};}
function clip(g,px,py){var dx=px-g.cx,dy=py-g.cy,t;
if(g.r){t=Math.min(g.rx/Math.max(Math.abs(dx),1e-6),g.ry/Math.max(Math.abs(dy),1e-6));}
else{t=1/Math.sqrt(dx*dx/(g.rx*g.rx)+dy*dy/(g.ry*g.ry));}
return[g.cx+dx*t,g.cy+dy*t];}
var ns="http://www.w3.org/2000/svg",grp=document.getElementById('edges');
E.forEach(function(e){var A=G(e[0]),B=G(e[1]);if(!A||!B)return;var v=e[3]||[];
var p1=v.length?v[0]:[B.cx,B.cy],pn=v.length?v[v.length-1]:[A.cx,A.cy];
var s=clip(A,p1[0],p1[1]),t=clip(B,pn[0],pn[1]);
var d="M"+s[0].toFixed(2)+","+s[1].toFixed(2);
if(v.length===1){d+=" Q"+v[0][0]+","+v[0][1]+" "+t[0].toFixed(2)+","+t[1].toFixed(2);}
else if(v.length===2){d+=" C"+v[0][0]+","+v[0][1]+" "+v[1][0]+","+v[1][1]+" "+t[0].toFixed(2)+","+t[1].toFixed(2);}
else{d+=" L"+t[0].toFixed(2)+","+t[1].toFixed(2);}
var p=document.createElementNS(ns,'path');p.setAttribute('d',d);
p.setAttribute('marker-end',e[2]==='t'?'url(#te)':'url(#ar)');grp.appendChild(p);});
})();
</script>
</body></html>
